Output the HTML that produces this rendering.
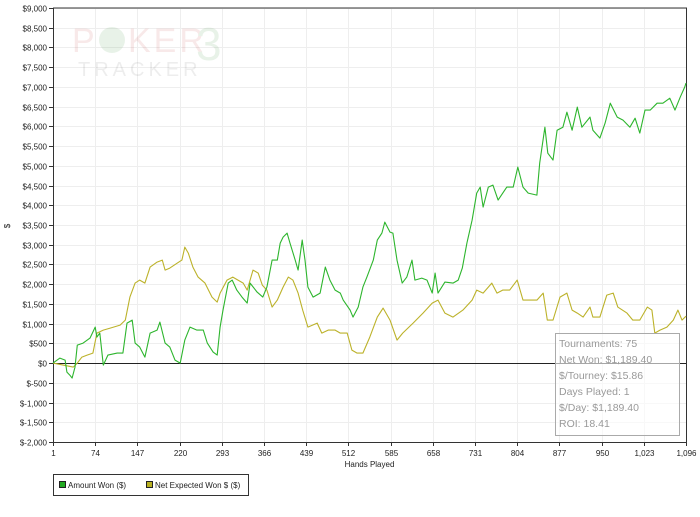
<!DOCTYPE html>
<html><head><meta charset="utf-8"><style>
body{margin:0;background:#fff;font-family:"Liberation Sans",sans-serif;}
svg text{font-family:"Liberation Sans",sans-serif;}
</style></head><body>
<svg width="700" height="512" xmlns="http://www.w3.org/2000/svg">
<g id="grid"></g>
<g opacity="0.1">
<text x="72" y="52" font-family="Liberation Serif" font-size="34" fill="#c03030" letter-spacing="3">P</text>
<circle cx="112" cy="40" r="13" fill="#2a8a2a"/>
<text x="128" y="52" font-family="Liberation Serif" font-size="34" fill="#c03030" letter-spacing="3">KER</text>
<text x="196" y="60" font-family="Liberation Serif" font-size="46" fill="#2a8a2a">3</text>
<text x="78" y="76" font-family="Liberation Serif" font-size="20" fill="#555" letter-spacing="4">TRACKER</text>
</g>
<g id="axes"></g>
<g id="series"></g>
<g>
<rect x="555.5" y="333.5" width="124" height="102" fill="rgba(255,255,255,0.6)" stroke="#aaa"/>
<g font-size="10.5" fill="#999">
<text x="559" y="347" font-family="DejaVu Sans">Tournaments: 75</text>
<text x="559" y="363" font-family="DejaVu Sans">Net Won: $1,189.40</text>
<text x="559" y="379" font-family="DejaVu Sans">$/Tourney: $15.86</text>
<text x="559" y="395" font-family="DejaVu Sans">Days Played: 1</text>
<text x="559" y="411" font-family="DejaVu Sans">$/Day: $1,189.40</text>
<text x="559" y="427" font-family="DejaVu Sans">ROI: 18.41</text>
</g></g>
<g>
<rect x="53.5" y="474.5" width="195" height="21" fill="#fff" stroke="#333"/>
<rect x="59.5" y="481.5" width="6" height="6" fill="#22aa22" stroke="#222"/>
<text x="68" y="488" font-size="8" fill="#222">Amount Won ($)</text>
<rect x="146.5" y="481.5" width="6" height="6" fill="#b8b020" stroke="#222"/>
<text x="155" y="488" font-size="8" fill="#222">Net Expected Won $ ($)</text>
</g>
</svg>
<script>
const wonHands=[1,13,22,25,30,34,39,43,53,65,74,77,82,88,96,112,122,129,138,143,151,160,169,181,186,195,203,212,221,229,238,250,261,268,278,285,290,295,304,311,319,328,337,342,354,364,371,380,389,394,399,406,411,420,425,432,437,442,451,463,472,480,489,498,503,515,520,529,537,544,555,562,570,575,584,589,596,605,613,622,627,639,648,657,662,667,679,693,702,709,717,726,734,740,745,754,762,771,786,797,805,814,823,838,843,852,857,866,873,883,890,899,908,916,930,935,947,956,965,977,987,999,1008,1016,1025,1034,1046,1056,1068,1077,1086,1094,1096];
const amountWon=[0,127,76,-228,-304,-380,-101,456,507,634,912,659,760,-51,203,253,253,1014,1090,507,405,152,760,836,1039,507,405,76,0,583,912,836,836,507,279,203,912,1343,2027,2103,1850,1672,1520,2027,1799,1672,1926,2610,2610,3041,3193,3294,3041,2610,2357,3117,2610,1926,1672,1774,2433,2103,1850,1774,1596,1343,1166,1419,1926,2179,2610,3117,3294,3573,3320,3294,2610,2027,2179,2610,2103,2154,2103,1774,2281,1774,2053,2027,2103,2407,3041,3624,4308,4460,3953,4460,4511,4130,4460,4460,4967,4460,4308,4257,5068,5980,5321,5144,5904,5980,6360,5904,6487,5980,6234,5904,5702,6082,6588,6234,6158,5980,6208,5828,6411,6411,6588,6588,6715,6411,6740,7000,7100];
const expHands=[1,36,43,51,60,70,77,88,100,117,126,134,143,151,160,169,181,190,195,203,216,224,229,235,243,252,264,276,285,290,302,312,321,330,337,347,356,363,371,380,389,399,408,416,425,433,442,458,466,477,489,498,510,518,527,537,549,562,572,584,596,606,624,641,657,667,679,693,710,726,734,745,760,769,779,791,804,814,826,838,849,856,866,878,890,899,908,918,930,935,947,959,970,978,994,1004,1016,1029,1037,1042,1051,1063,1074,1082,1089,1096];
const netExpected=[0,-101,0,152,203,253,760,836,887,963,1090,1672,2027,2103,2027,2433,2559,2610,2357,2407,2534,2610,2939,2787,2433,2179,2027,1672,1546,1774,2103,2179,2103,2027,1850,2357,2281,1977,1850,1419,1596,1926,2179,2103,1774,1343,912,1014,760,836,836,760,760,329,253,253,659,1166,1394,1090,583,760,1014,1267,1520,1596,1267,1166,1343,1596,1850,1774,2027,1774,1850,1850,2103,1596,1596,1596,1774,1090,1090,1672,1774,1343,1267,1166,1419,1166,1166,1723,1774,1419,1267,1090,1090,1419,1343,760,836,912,1090,1343,1090,1189];
const xTicks=[1,74,147,220,293,366,439,512,585,658,731,804,877,950,1023,1096];
const xTickLabels=["1","74","147","220","293","366","439","512","585","658","731","804","877","950","1,023","1,096"];
const yTicks=[-2000,-1500,-1000,-500,0,500,1000,1500,2000,2500,3000,3500,4000,4500,5000,5500,6000,6500,7000,7500,8000,8500,9000];
const yTickLabels=["$-2,000","$-1,500","$-1,000","$-500","$0","$500","$1,000","$1,500","$2,000","$2,500","$3,000","$3,500","$4,000","$4,500","$5,000","$5,500","$6,000","$6,500","$7,000","$7,500","$8,000","$8,500","$9,000"];
const L=53,R=686,T=8,B=442;
const X=h=>L+(h-1)/(1096-1)*(R-L);
const Y=v=>B-(v+2000)/11000*(B-T);
const NS="http://www.w3.org/2000/svg";
function mk(tag,attrs,parent){const e=document.createElementNS(NS,tag);for(const k in attrs)e.setAttribute(k,attrs[k]);parent.appendChild(e);return e;}
const grid=document.getElementById('grid'),axes=document.getElementById('axes'),series=document.getElementById('series');
xTicks.forEach((t,i)=>{const x=Math.round(X(t))+0.5;
 const g=mk('line',{x1:x,x2:x,y1:T,y2:B,stroke:'#eee'},grid);
 
 
 mk('line',{x1:x,x2:x,y1:B,y2:B+4,stroke:'#333'},axes);
 const tx=mk('text',{x:x,y:B+14,'font-size':8,'text-anchor':'middle',fill:'#222'},axes);tx.textContent=xTickLabels[i];
 
 
});
yTicks.forEach((t,i)=>{const y=Math.round(Y(t))+0.5;
 const g=mk('line',{x1:L,x2:R,y1:y,y2:y,stroke:'#eee'},grid);
 
 
 mk('line',{x1:L-4,x2:L,y1:y,y2:y,stroke:'#333'},axes);
 const tx=mk('text',{x:L-6,y:y+3,'font-size':8,'text-anchor':'end',fill:'#222'},axes);tx.textContent=yTickLabels[i];
 
 
});
const a=mk('path',{d:`M${L+0.5} ${T} V${B+0.5} H${R+0.5} V${T} H${L}`,fill:'none',stroke:'#333'},axes);


const z=mk('line',{x1:L,x2:R,y1:Math.round(Y(0))+0.5,y2:Math.round(Y(0))+0.5,stroke:'#222'},axes);


const xt=mk('text',{x:(L+R)/2,y:467,'font-size':8,'text-anchor':'middle',fill:'#222'},axes);xt.textContent='Hands Played';


const yt=mk('text',{x:10,y:226,'font-size':8,'text-anchor':'middle',fill:'#222',transform:'rotate(-90 10 226)'},axes);yt.textContent='$';


function line(hs,vals,color,name){const d=vals.map((v,i)=>(i?'L':'M')+X(hs[i]).toFixed(1)+' '+Y(v).toFixed(1)).join(' ');
 const p=mk('path',{d:d,fill:'none',stroke:color,'stroke-width':1.1,'stroke-linejoin':'round'},series);
 
 }
line(expHands,netExpected,'#bcb22a','net-expected-line');
line(wonHands,amountWon,'#2db52d','amount-won-line');
</script>
</body></html>
